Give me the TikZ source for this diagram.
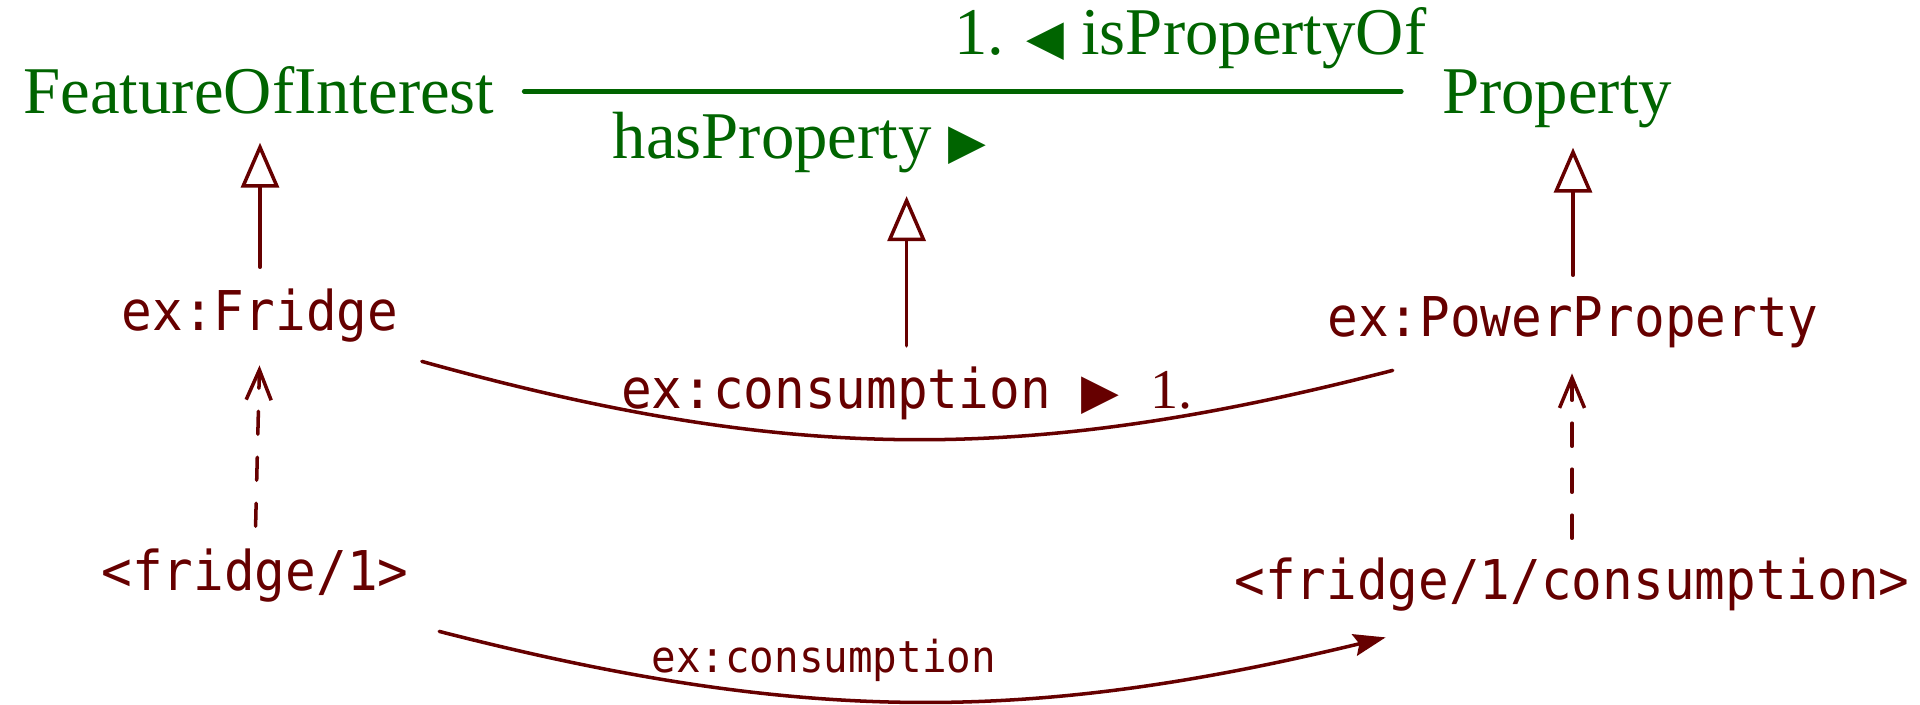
\documentclass[tikz,border=0pt]{standalone}
\usepackage{fontspec}
\setmainfont{Liberation Serif}
\newfontfamily\rdffont[FakeStretch=0.93]{DejaVu Sans Mono}
\newfontfamily\symfont{DejaVu Sans}
\usepackage{xcolor}
\usetikzlibrary{arrows.meta,calc}

\definecolor{classgreen}{RGB}{0,100,0}
\definecolor{instred}{RGB}{102,0,0}

\newcommand{\rtri}{{\symfont\fontsize{14}{14}\selectfont ▶}}
\newcommand{\ltri}{{\symfont\fontsize{14}{14}\selectfont ◀}}

\begin{document}
\begin{tikzpicture}[
  x=1cm, y=1cm,
  line cap=round,
  line join=round,
  class/.style={text=classgreen, font=\fontsize{19}{19}\selectfont,
    inner sep=0pt, text height=12.9pt, text depth=0pt},
  assoclbl/.style={text=classgreen, font=\fontsize{19}{19}\selectfont, inner sep=0pt},
  res/.style={text=instred, font=\rdffont\fontsize{15.6}{15.6}\selectfont,
    inner sep=0pt, text height=11.4pt, text depth=3.9pt},
  reslbl/.style={text=instred, font=\rdffont\fontsize{12.5}{12.5}\selectfont, inner sep=0pt},
  rel/.style={draw=instred, line width=1pt},
  gen/.style={rel, -{Triangle[open, length=0.45cm, width=0.38cm]}},
  inst/.style={rel, dash pattern=on 0.23cm off 0.23cm,
    -{Straight Barb[length=0.3cm, width=0.25cm]}},
]
  \useasboundingbox (0,0) rectangle (19.2,7.05);

  % classes and their association
  \node[class, anchor=base] (foi)  at (2.59,5.91)  {FeatureOfInterest};
  \node[class, anchor=base] (prop) at (15.57,5.91) {Property};
  \draw[classgreen, line width=1.3pt, shorten <=0.29cm, shorten >=0.40cm] (foi.east) -- (prop.west);
  \node[assoclbl, anchor=base east] (ispropof) at (14.27,6.50) {1. \ltri\ isPropertyOf};
  \node[assoclbl, anchor=base west] (hasprop)  at (6.12,5.46)  {hasProperty \rtri};

  % resources
  \node[res, anchor=base] (fridge)     at (2.60,3.74)  {ex:Fridge};
  \node[res, anchor=base] (power)      at (15.73,3.68) {ex:PowerProperty};
  \node[res, anchor=base] (fridgeone)  at (2.55,1.14)  {<fridge/1>};
  \node[res, anchor=base] (fridgecons) at (15.72,1.05) {<fridge/1/consumption>};

  % property between the classes
  \draw[rel] ([shift={(0.23,-0.16)}]fridge.south east) to[bend right=15]
    node[res, midway, anchor=base, yshift=0.31cm] (cons)
      {ex:consumption \rtri\ {\rmfamily\fontsize{16}{16}\selectfont 1.}}
    ([shift={(0.66,-0.19)}]power.south west);

  % subclass and subproperty
  \draw[gen, shorten <=0.23cm, shorten >=0.28cm] (fridge.north) -- (fridge.north |- foi.south);
  \draw[gen, shorten <=0.21cm, shorten >=0.22cm] (cons.north) -- (cons.north |- hasprop.south);
  \draw[gen, shorten <=0.21cm, shorten >=0.33cm] (power.north) -- (power.north |- prop.south);

  % instances
  \draw[inst, shorten <=0.24cm, shorten >=0.20cm] (fridgeone.north) -- (fridge.south);
  \draw[inst, shorten <=0.21cm, shorten >=0.22cm] (fridgecons.north) -- (fridgecons.north |- power.south);

  % triple
  \draw[rel, -{Stealth[length=0.32cm, width=0.22cm, inset=0.05cm]}]
    ([shift={(0.30,-0.26)}]fridgeone.south east) to[bend right=14]
    node[reslbl, pos=0.4, anchor=base, yshift=0.26cm] (conslbl) {ex:consumption}
    ([shift={(1.52,-0.23)}]fridgecons.south west);
\end{tikzpicture}
\end{document}
